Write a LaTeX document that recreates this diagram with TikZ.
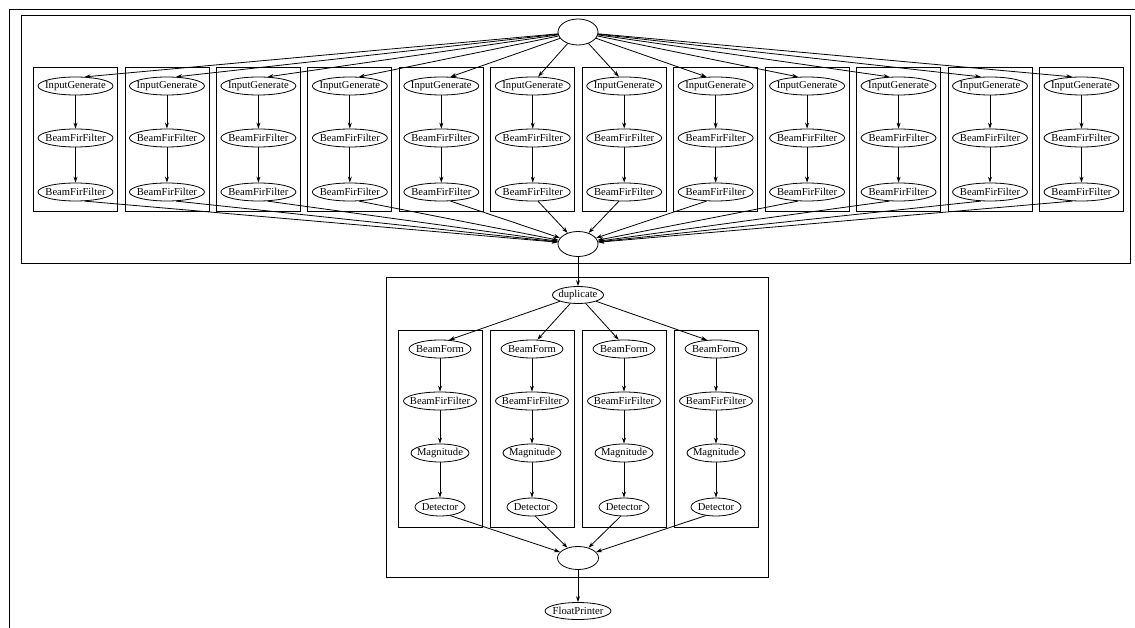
\documentclass[tikz,border=0pt]{standalone}
\usepackage{fontspec}
\setmainfont{Liberation Serif}
\usetikzlibrary{shapes.geometric,arrows.meta}
\newcommand{\zb}[1]{\makebox[0pt]{#1}}
\begin{document}
\begin{tikzpicture}[x=1pt,y=-1pt,
  ell/.style={draw, ellipse, inner sep=0pt, minimum height=18pt, line width=0.8pt, font=\fontsize{10.6}{10.6}\selectfont},
  frm/.style={draw, line width=0.8pt},
  arr/.style={-{Stealth[length=6pt,width=4pt]}, line width=0.8pt}]
\useasboundingbox (0,0) rectangle (1135,628);
% outer frame
\draw[line width=0.8pt] (9,628) -- (9,9) -- (1135,9);
% top split-join
\draw[frm] (21,15) rectangle (1130,263);
\node[ell, minimum width=40pt, minimum height=26pt] (src) at (578,32) {};
\node[ell, minimum width=40pt, minimum height=25pt] (jn1) at (578,244) {};
\foreach \i in {1,...,12} {
  \pgfmathsetmacro{\cx}{75.5+91.45*(\i-1)}
  \pgfmathtruncatemacro{\ain}{\i<6 ? 45 : (\i==6 ? 60 : (\i==7 ? 120 : 135))}
  \pgfmathtruncatemacro{\aout}{\i<6 ? -45 : (\i==6 ? -60 : (\i==7 ? -120 : -135))}
  \draw[frm] (\cx-42,67) rectangle (\cx+42,211);
  \node[ell, minimum width=75pt] (ig\i) at (\cx,86) {\zb{InputGenerate}};
  \node[ell, minimum width=75pt] (fa\i) at (\cx,138) {\zb{BeamFirFilter}};
  \node[ell, minimum width=75pt] (fb\i) at (\cx,192) {\zb{BeamFirFilter}};
  \draw[arr] (src) -- (ig\i.\ain);
  \draw[arr] (ig\i) -- (fa\i);
  \draw[arr] (fa\i) -- (fb\i);
  \draw[arr] (fb\i.\aout) -- (jn1);
}
% bottom split-join
\draw[frm] (386,277) rectangle (768,577);
\node[ell, minimum width=51pt, minimum height=17pt] (dup) at (578,295) {\zb{duplicate}};
\node[ell, minimum width=41pt, minimum height=23pt] (jn2) at (578,558) {};
\node[ell, minimum width=66pt, minimum height=17pt] (fp) at (578,611) {\zb{FloatPrinter}};
\draw[arr] (jn1) -- (dup);
\draw[arr] (jn2) -- (fp);
\foreach \j in {1,...,4} {
  \pgfmathsetmacro{\cx}{440+92*(\j-1)}
  \pgfmathtruncatemacro{\ain}{\j==1 ? 45 : (\j==2 ? 60 : (\j==3 ? 120 : 135))}
  \pgfmathtruncatemacro{\aout}{\j==1 ? -40 : (\j==2 ? -70 : (\j==3 ? -110 : -140))}
  \draw[frm] (\cx-42,330) rectangle (\cx+42,527);
  \node[ell, minimum width=62pt] (bm\j) at (\cx,349) {\zb{BeamForm}};
  \node[ell, minimum width=73pt] (bf\j) at (\cx,401) {\zb{BeamFirFilter}};
  \node[ell, minimum width=58pt] (mg\j) at (\cx,453) {\zb{Magnitude}};
  \node[ell, minimum width=50pt] (dt\j) at (\cx,507) {\zb{Detector}};
  \draw[arr] (dup) -- (bm\j.\ain);
  \draw[arr] (bm\j) -- (bf\j);
  \draw[arr] (bf\j) -- (mg\j);
  \draw[arr] (mg\j) -- (dt\j);
  \draw[arr] (dt\j.\aout) -- (jn2);
}
\end{tikzpicture}
\end{document}
